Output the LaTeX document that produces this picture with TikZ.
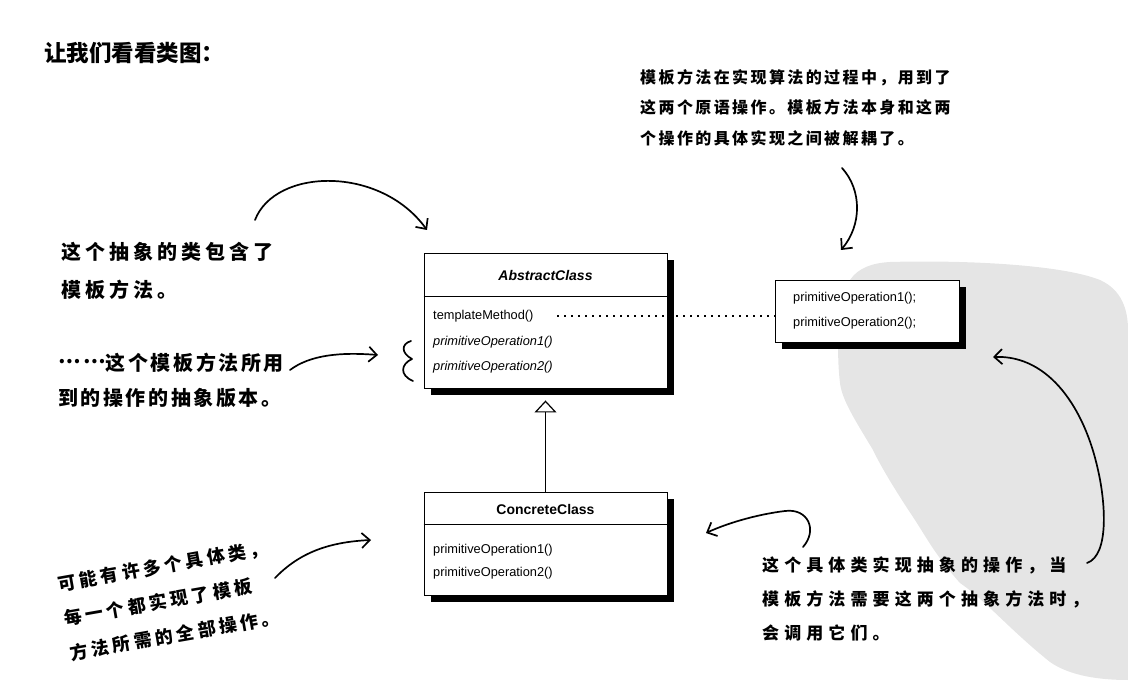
\documentclass[tikz,border=0pt]{standalone}
\usepackage{fontspec}
\usetikzlibrary{arrows.meta,shadows}
\newfontfamily\umlfont{Liberation Sans}
\newfontfamily\cjkfont{Noto Sans CJK SC}
\newfontfamily\handA[LetterSpace=20]{Noto Sans CJK SC}
\newfontfamily\handB[LetterSpace=15]{Noto Sans CJK SC}
\newfontfamily\handC[LetterSpace=30]{Noto Sans CJK SC}
\newfontfamily\handD[LetterSpace=13]{Noto Sans CJK SC}
\newfontfamily\handE[LetterSpace=20]{Noto Sans CJK SC}
\tikzset{
  umlbox/.style={draw, line width=0.9pt, fill=white, inner sep=0pt,
    drop shadow={shadow xshift=7pt, shadow yshift=-7pt, fill=black, opacity=1}},
  umltext/.style={font=\umlfont\fontsize{12.8}{14}\selectfont, inner sep=0pt, anchor=west},
  note/.style={inner sep=0pt, align=left, anchor=west},
  hand/.style={line width=1.7pt, line cap=round, line join=round},
  handarrow/.style={hand, -{Straight Barb[length=8pt,width=15pt]}},
}
\begin{document}
\begin{tikzpicture}[x=1pt,y=-1pt]
\useasboundingbox (0,0) rectangle (1128,687);
% watermark blob
\fill[black!10] (890,262) .. controls (960,260) and (1060,264) .. (1100,280)
  .. controls (1122,290) and (1128,310) .. (1128,330) -- (1128,680)
  .. controls (1100,680) and (1070,676) .. (1050,662)
  .. controls (1010,630) and (985,600) .. (960,583)
  .. controls (935,555) and (925,535) .. (913,517)
  .. controls (895,490) and (880,465) .. (873,450)
  .. controls (855,420) and (842,400) .. (840,383)
  .. controls (836,350) and (838,300) .. (850,280)
  .. controls (858,268) and (872,263) .. (890,262) -- cycle;

% title
\node[note, font=\cjkfont\bfseries\fontsize{22.5}{26}\selectfont] (title) at (44,53) {让我们看看类图：};

% AbstractClass
\node[umlbox, minimum width=243pt, minimum height=135pt] (abs) at (545.5,320.5) {};
\draw[line width=0.9pt] ([yshift=-44pt]abs.north west) -- ([yshift=-44pt]abs.north east);
\node[inner sep=0pt, font=\umlfont\bfseries\itshape\fontsize{14}{16}\selectfont] (absname) at (545.5,275) {AbstractClass};
\node[umltext] (tm) at (433,316) {templateMethod()};
\node[umltext, font=\umlfont\itshape\fontsize{12.8}{14}\selectfont] (apo1) at (433,342) {primitiveOperation1()};
\node[umltext, font=\umlfont\itshape\fontsize{12.8}{14}\selectfont] (apo2) at (433,367) {primitiveOperation2()};

% right box
\node[umlbox, minimum width=184pt, minimum height=62pt] (prim) at (867,311) {};
\node[umltext] (p1) at (793,298) {primitiveOperation1();};
\node[umltext] (p2) at (793,323) {primitiveOperation2();};

% ConcreteClass
\node[umlbox, minimum width=243pt, minimum height=103pt] (conc) at (545.5,543.5) {};
\draw[line width=0.9pt] ([yshift=-33pt]conc.north west) -- ([yshift=-33pt]conc.north east);
\node[inner sep=0pt, font=\umlfont\bfseries\fontsize{14}{16}\selectfont] (concname) at (545.5,509) {ConcreteClass};
\node[umltext] (c1) at (433,550) {primitiveOperation1()};
\node[umltext] (c2) at (433,573) {primitiveOperation2()};

% generalization
\draw[line width=1pt, -{Triangle[open, length=12pt, width=22pt, line width=1.2pt]}] (conc.north) -- ([yshift=-12pt]abs.south);

% dotted link
\coordinate (dotstart) at (557,316);
\draw[line width=1.6pt, dash pattern=on 1.6pt off 5.4pt] (dotstart) -- (prim.west |- dotstart);

% annotations
\node[note, font=\handA\bfseries\fontsize{20}{38}\selectfont] (n1) at (61,271)
  {这个抽象的类包含了\\模板方法。};
\node[note, font=\handD\bfseries\fontsize{20}{35}\selectfont] (n2) at (58,380)
  {\raisebox{0.35em}{……}这个模板方法所用\\到的操作的抽象版本。};
\node[note, font=\handB\bfseries\fontsize{16}{30.5}\selectfont] (n3) at (640,107.5)
  {模板方法在实现算法的过程中，用到了\\这两个原语操作。模板方法本身和这两\\个操作的具体实现之间被解耦了。};
\node[note, font=\handC\bfseries\fontsize{17}{34}\selectfont] (n4) at (762,599)
  {这个具体类实现抽象的操作，当\\模板方法需要这两个抽象方法时，\\会调用它们。};
\node[note, rotate=10, font=\handE\bfseries\fontsize{18}{35}\selectfont] (n5) at (64,619)
  {可能有许多个具体类，\\每一个都实现了模板\\方法所需的全部操作。};

% hand-drawn arrows
\coordinate (a1s) at (255,220); \coordinate (a1e) at (427,230);
\draw[handarrow] (a1s) .. controls (275,168) and (380,165) .. (a1e);
\coordinate (a2s) at (290,370); \coordinate (a2e) at (378,355);
\draw[handarrow] (a2s) .. controls (310,355) and (340,352) .. (a2e);
\coordinate (b1) at (411,341); \coordinate (b2) at (412,359); \coordinate (b3) at (413,381);
\draw[hand] (b1) .. controls (401,344) and (401,353) .. (b2) .. controls (401,364) and (399,375) .. (b3);
\coordinate (a3s) at (275,578); \coordinate (a3e) at (371,540);
\draw[handarrow] (a3s) .. controls (300,552) and (330,542) .. (a3e);
\coordinate (a4s) at (842,168); \coordinate (a4e) at (841,250);
\draw[handarrow] (a4s) .. controls (862,190) and (862,225) .. (a4e);
\coordinate (a5s) at (803,547); \coordinate (a5m) at (785,511); \coordinate (a5e) at (706,533);
\draw[handarrow] (a5s) .. controls (818,530) and (808,508) .. (a5m) .. controls (760,514) and (730,522) .. (a5e);
\coordinate (a6s) at (1087,563); \coordinate (a6m) at (1098,470); \coordinate (a6e) at (993,357);
\draw[handarrow] (a6s) .. controls (1110,555) and (1105,500) .. (a6m) .. controls (1085,410) and (1050,355) .. (a6e);
\end{tikzpicture}
\end{document}
